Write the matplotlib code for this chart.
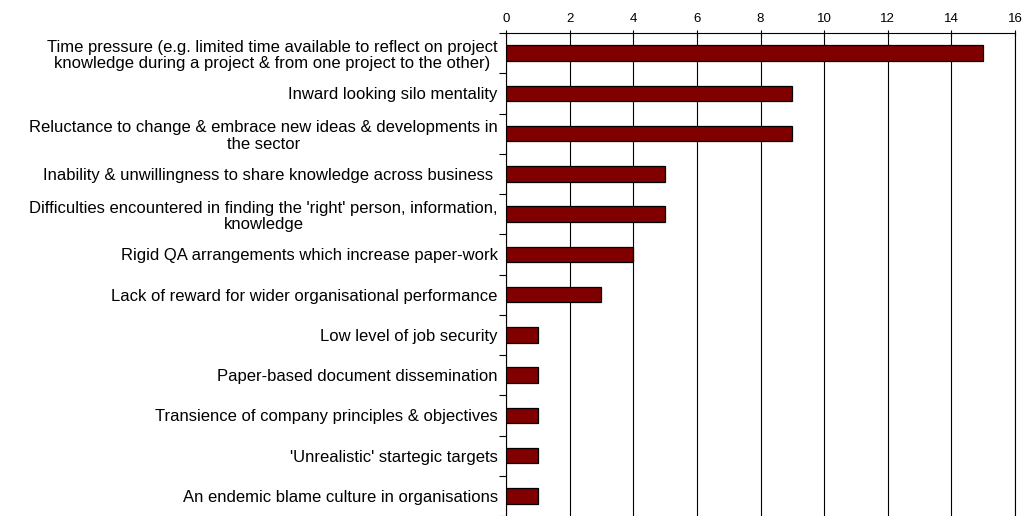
import matplotlib
matplotlib.use("Agg")
import matplotlib.pyplot as plt
import numpy as np

plt.rcParams['font.family'] = ['Liberation Sans', 'DejaVu Sans']

labels = [
    "Time pressure (e.g. limited time available to reflect on project\nknowledge during a project & from one project to the other)",
    "Inward looking silo mentality",
    "Reluctance to change & embrace new ideas & developments in\nthe sector",
    "Inability & unwillingness to share knowledge across business ",
    "Difficulties encountered in finding the 'right' person, information,\nknowledge",
    "Rigid QA arrangements which increase paper-work",
    "Lack of reward for wider organisational performance",
    "Low level of job security",
    "Paper-based document dissemination",
    "Transience of company principles & objectives",
    "'Unrealistic' startegic targets",
    "An endemic blame culture in organisations",
]
counts = [15, 9, 9, 5, 5, 4, 3, 1, 1, 1, 1, 1]
xticks = list(range(0, 17, 2))

fig = plt.figure(figsize=(10.23, 5.16), dpi=100)
ax = fig.add_axes([506 / 1023, 0, (1015 - 506) / 1023, (516 - 33) / 516])

y = np.arange(len(labels))
ax.barh(y, counts, height=0.38, color='#800000', edgecolor='black', linewidth=0.9, zorder=3)

ax.set_xlim(0, 16)
ax.set_ylim(len(labels) - 0.5, -0.5)
ax.xaxis.tick_top()
ax.set_xticks(xticks)
ax.tick_params(axis='x', direction='inout', length=5, width=0.8, labelsize=9.5, pad=3)
ax.grid(axis='x', color='black', linewidth=0.8, zorder=0)

ax.set_yticks(y)
ax.set_yticklabels(labels, fontsize=12, ha='right', multialignment='center', linespacing=1.12)
ax.tick_params(axis='y', which='major', length=0, pad=6)
ax.set_yticks(np.arange(len(labels) + 1) - 0.5, minor=True)
ax.tick_params(axis='y', which='minor', length=5, width=0.8, direction='out')

ax.spines['bottom'].set_visible(False)
for s in ('top', 'left', 'right'):
    ax.spines[s].set_linewidth(0.8)

fig.savefig("out.png", dpi=100)
